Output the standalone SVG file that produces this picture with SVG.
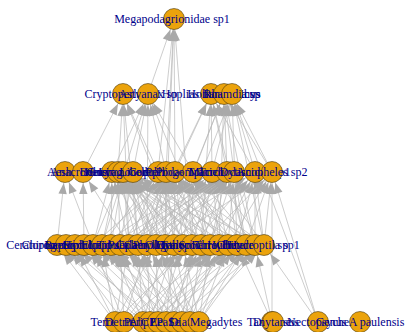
<svg xmlns="http://www.w3.org/2000/svg" width="412" height="332" viewBox="0 0 412 332">
<style>
.e line{stroke:#b8b8b8;stroke-width:0.7;marker-end:url(#ar)}
.n circle{fill:#EBA30C;stroke:#4a3a10;stroke-width:0.6}
.n text{font-family:"Liberation Serif","Times New Roman",serif;font-size:12px;fill:#00008B;text-anchor:middle}
</style>
<defs>
<marker id="ar" markerUnits="userSpaceOnUse" markerWidth="26" markerHeight="10" viewBox="0 0 26 10" refX="22" refY="5" orient="auto" overflow="visible"><path d="M0,0.8 L11,5 L0,9.2 z" fill="#a9a9a9"/></marker>
</defs>
<rect width="412" height="332" fill="#fff"/>
<g id="connectors" class="e">
<line x1="148" y1="94" x2="174" y2="19"/><line x1="158" y1="172" x2="174" y2="19"/><line x1="166" y1="172" x2="174" y2="19"/><line x1="175" y1="172" x2="174" y2="19"/><line x1="165" y1="245" x2="174" y2="19"/><line x1="192" y1="245" x2="174" y2="19"/>
<line x1="83" y1="172" x2="123" y2="94"/><line x1="118" y1="172" x2="123" y2="94"/><line x1="158" y1="172" x2="123" y2="94"/><line x1="138" y1="245" x2="123" y2="94"/><line x1="129" y1="245" x2="123" y2="94"/><line x1="183" y1="245" x2="123" y2="94"/>
<line x1="112" y1="172" x2="148" y2="94"/><line x1="133" y1="172" x2="148" y2="94"/><line x1="166" y1="172" x2="148" y2="94"/><line x1="193" y1="172" x2="148" y2="94"/><line x1="102" y1="245" x2="148" y2="94"/><line x1="147" y1="245" x2="148" y2="94"/><line x1="210" y1="245" x2="148" y2="94"/>
<line x1="175" y1="172" x2="211" y2="94"/><line x1="212" y1="172" x2="211" y2="94"/><line x1="227" y1="172" x2="211" y2="94"/><line x1="255" y1="172" x2="211" y2="94"/><line x1="138" y1="245" x2="211" y2="94"/><line x1="201" y1="245" x2="211" y2="94"/><line x1="246" y1="245" x2="211" y2="94"/>
<line x1="193" y1="172" x2="224" y2="94"/><line x1="227" y1="172" x2="224" y2="94"/><line x1="234" y1="172" x2="224" y2="94"/><line x1="272" y1="172" x2="224" y2="94"/><line x1="165" y1="245" x2="224" y2="94"/><line x1="219" y1="245" x2="224" y2="94"/><line x1="255" y1="245" x2="224" y2="94"/>
<line x1="212" y1="172" x2="232" y2="94"/><line x1="255" y1="172" x2="232" y2="94"/><line x1="272" y1="172" x2="232" y2="94"/><line x1="174" y1="245" x2="232" y2="94"/><line x1="237" y1="245" x2="232" y2="94"/><line x1="264" y1="245" x2="232" y2="94"/><line x1="318" y1="322" x2="232" y2="94"/>
<line x1="57" y1="245" x2="65" y2="172"/><line x1="93" y1="245" x2="65" y2="172"/>
<line x1="84" y1="245" x2="83" y2="172"/><line x1="129" y1="245" x2="83" y2="172"/>
<line x1="210" y1="245" x2="112" y2="172"/><line x1="93" y1="245" x2="112" y2="172"/><line x1="111" y1="245" x2="112" y2="172"/><line x1="129" y1="245" x2="112" y2="172"/><line x1="147" y1="245" x2="112" y2="172"/><line x1="165" y1="245" x2="112" y2="172"/><line x1="192" y1="245" x2="112" y2="172"/><line x1="228" y1="245" x2="112" y2="172"/>
<line x1="156" y1="245" x2="118" y2="172"/><line x1="192" y1="245" x2="118" y2="172"/><line x1="102" y1="245" x2="118" y2="172"/><line x1="120" y1="245" x2="118" y2="172"/><line x1="138" y1="245" x2="118" y2="172"/><line x1="165" y1="245" x2="118" y2="172"/><line x1="210" y1="245" x2="118" y2="172"/><line x1="246" y1="245" x2="118" y2="172"/>
<line x1="174" y1="245" x2="123" y2="172"/><line x1="93" y1="245" x2="123" y2="172"/><line x1="111" y1="245" x2="123" y2="172"/><line x1="129" y1="245" x2="123" y2="172"/><line x1="156" y1="245" x2="123" y2="172"/><line x1="183" y1="245" x2="123" y2="172"/><line x1="219" y1="245" x2="123" y2="172"/><line x1="264" y1="245" x2="123" y2="172"/>
<line x1="165" y1="245" x2="133" y2="172"/><line x1="120" y1="245" x2="133" y2="172"/><line x1="138" y1="245" x2="133" y2="172"/><line x1="147" y1="245" x2="133" y2="172"/><line x1="156" y1="245" x2="133" y2="172"/><line x1="174" y1="245" x2="133" y2="172"/><line x1="201" y1="245" x2="133" y2="172"/><line x1="237" y1="245" x2="133" y2="172"/>
<line x1="201" y1="245" x2="158" y2="172"/><line x1="102" y1="245" x2="158" y2="172"/><line x1="129" y1="245" x2="158" y2="172"/><line x1="156" y1="245" x2="158" y2="172"/><line x1="165" y1="245" x2="158" y2="172"/><line x1="183" y1="245" x2="158" y2="172"/><line x1="228" y1="245" x2="158" y2="172"/><line x1="255" y1="245" x2="158" y2="172"/>
<line x1="147" y1="245" x2="166" y2="172"/><line x1="111" y1="245" x2="166" y2="172"/><line x1="138" y1="245" x2="166" y2="172"/><line x1="165" y1="245" x2="166" y2="172"/><line x1="174" y1="245" x2="166" y2="172"/><line x1="192" y1="245" x2="166" y2="172"/><line x1="210" y1="245" x2="166" y2="172"/><line x1="264" y1="245" x2="166" y2="172"/>
<line x1="93" y1="245" x2="175" y2="172"/><line x1="120" y1="245" x2="175" y2="172"/><line x1="147" y1="245" x2="175" y2="172"/><line x1="174" y1="245" x2="175" y2="172"/><line x1="183" y1="245" x2="175" y2="172"/><line x1="201" y1="245" x2="175" y2="172"/><line x1="237" y1="245" x2="175" y2="172"/><line x1="246" y1="245" x2="175" y2="172"/>
<line x1="228" y1="245" x2="193" y2="172"/><line x1="129" y1="245" x2="193" y2="172"/><line x1="156" y1="245" x2="193" y2="172"/><line x1="183" y1="245" x2="193" y2="172"/><line x1="192" y1="245" x2="193" y2="172"/><line x1="210" y1="245" x2="193" y2="172"/><line x1="219" y1="245" x2="193" y2="172"/><line x1="255" y1="245" x2="193" y2="172"/>
<line x1="102" y1="245" x2="212" y2="172"/><line x1="138" y1="245" x2="212" y2="172"/><line x1="165" y1="245" x2="212" y2="172"/><line x1="192" y1="245" x2="212" y2="172"/><line x1="201" y1="245" x2="212" y2="172"/><line x1="219" y1="245" x2="212" y2="172"/><line x1="228" y1="245" x2="212" y2="172"/><line x1="264" y1="245" x2="212" y2="172"/>
<line x1="111" y1="245" x2="227" y2="172"/><line x1="129" y1="245" x2="227" y2="172"/><line x1="147" y1="245" x2="227" y2="172"/><line x1="174" y1="245" x2="227" y2="172"/><line x1="201" y1="245" x2="227" y2="172"/><line x1="210" y1="245" x2="227" y2="172"/><line x1="237" y1="245" x2="227" y2="172"/><line x1="246" y1="245" x2="227" y2="172"/>
<line x1="120" y1="245" x2="234" y2="172"/><line x1="138" y1="245" x2="234" y2="172"/><line x1="156" y1="245" x2="234" y2="172"/><line x1="183" y1="245" x2="234" y2="172"/><line x1="210" y1="245" x2="234" y2="172"/><line x1="228" y1="245" x2="234" y2="172"/><line x1="246" y1="245" x2="234" y2="172"/><line x1="255" y1="245" x2="234" y2="172"/>
<line x1="138" y1="245" x2="255" y2="172"/><line x1="192" y1="245" x2="255" y2="172"/><line x1="219" y1="245" x2="255" y2="172"/><line x1="237" y1="245" x2="255" y2="172"/><line x1="255" y1="245" x2="255" y2="172"/><line x1="264" y1="245" x2="255" y2="172"/>
<line x1="165" y1="245" x2="272" y2="172"/><line x1="201" y1="245" x2="272" y2="172"/><line x1="228" y1="245" x2="272" y2="172"/><line x1="246" y1="245" x2="272" y2="172"/><line x1="264" y1="245" x2="272" y2="172"/><line x1="318" y1="322" x2="272" y2="172"/><line x1="272" y1="322" x2="272" y2="172"/>
<line x1="115" y1="322" x2="57" y2="245"/><line x1="143" y1="322" x2="57" y2="245"/>
<line x1="124" y1="322" x2="66" y2="245"/><line x1="158" y1="322" x2="66" y2="245"/>
<line x1="115" y1="322" x2="75" y2="245"/><line x1="150" y1="322" x2="75" y2="245"/>
<line x1="143" y1="322" x2="84" y2="245"/><line x1="166" y1="322" x2="84" y2="245"/>
<line x1="124" y1="322" x2="93" y2="245"/><line x1="174" y1="322" x2="93" y2="245"/>
<line x1="115" y1="322" x2="102" y2="245"/><line x1="158" y1="322" x2="102" y2="245"/><line x1="182" y1="322" x2="102" y2="245"/>
<line x1="143" y1="322" x2="111" y2="245"/><line x1="166" y1="322" x2="111" y2="245"/><line x1="190" y1="322" x2="111" y2="245"/>
<line x1="124" y1="322" x2="120" y2="245"/><line x1="150" y1="322" x2="120" y2="245"/><line x1="199" y1="322" x2="120" y2="245"/>
<line x1="115" y1="322" x2="129" y2="245"/><line x1="158" y1="322" x2="129" y2="245"/><line x1="174" y1="322" x2="129" y2="245"/>
<line x1="143" y1="322" x2="138" y2="245"/><line x1="166" y1="322" x2="138" y2="245"/><line x1="182" y1="322" x2="138" y2="245"/>
<line x1="124" y1="322" x2="147" y2="245"/><line x1="150" y1="322" x2="147" y2="245"/><line x1="190" y1="322" x2="147" y2="245"/>
<line x1="115" y1="322" x2="156" y2="245"/><line x1="158" y1="322" x2="156" y2="245"/><line x1="199" y1="322" x2="156" y2="245"/>
<line x1="143" y1="322" x2="165" y2="245"/><line x1="174" y1="322" x2="165" y2="245"/><line x1="182" y1="322" x2="165" y2="245"/>
<line x1="150" y1="322" x2="174" y2="245"/><line x1="166" y1="322" x2="174" y2="245"/><line x1="190" y1="322" x2="174" y2="245"/>
<line x1="124" y1="322" x2="183" y2="245"/><line x1="158" y1="322" x2="183" y2="245"/><line x1="199" y1="322" x2="183" y2="245"/>
<line x1="115" y1="322" x2="192" y2="245"/><line x1="174" y1="322" x2="192" y2="245"/><line x1="182" y1="322" x2="192" y2="245"/>
<line x1="143" y1="322" x2="201" y2="245"/><line x1="166" y1="322" x2="201" y2="245"/><line x1="190" y1="322" x2="201" y2="245"/>
<line x1="150" y1="322" x2="210" y2="245"/><line x1="182" y1="322" x2="210" y2="245"/><line x1="199" y1="322" x2="210" y2="245"/>
<line x1="124" y1="322" x2="219" y2="245"/><line x1="158" y1="322" x2="219" y2="245"/><line x1="190" y1="322" x2="219" y2="245"/>
<line x1="166" y1="322" x2="228" y2="245"/><line x1="174" y1="322" x2="228" y2="245"/><line x1="199" y1="322" x2="228" y2="245"/>
<line x1="143" y1="322" x2="237" y2="245"/><line x1="182" y1="322" x2="237" y2="245"/><line x1="272" y1="322" x2="237" y2="245"/>
<line x1="150" y1="322" x2="246" y2="245"/><line x1="190" y1="322" x2="246" y2="245"/><line x1="199" y1="322" x2="246" y2="245"/>
<line x1="158" y1="322" x2="255" y2="245"/><line x1="199" y1="322" x2="255" y2="245"/><line x1="272" y1="322" x2="255" y2="245"/>
<line x1="174" y1="322" x2="264" y2="245"/><line x1="190" y1="322" x2="264" y2="245"/><line x1="318" y1="322" x2="264" y2="245"/>
</g>
<g id="n1" class="n"><circle cx="174" cy="19" r="10.5"/><text x="172" y="23">Megapodagrionidae sp1</text></g>
<g id="a1" class="n"><circle cx="123" cy="94" r="10.5"/><text x="123" y="98">Cryptoperla sp1</text></g>
<g id="a2" class="n"><circle cx="148" cy="94" r="10.5"/><text x="148" y="98">Astyanax sp</text></g>
<g id="a3" class="n"><circle cx="211" cy="94" r="10.5"/><text x="211" y="98">Hoplias malabaricus</text></g>
<g id="a4" class="n"><circle cx="224" cy="94" r="10.5"/><text x="224" y="98">Hollandichthys</text></g>
<g id="a5" class="n"><circle cx="232" cy="94" r="10.5"/><text x="232" y="98">Rhamdia sp</text></g>
<g id="b1" class="n"><circle cx="65" cy="172" r="10.5"/><text x="65" y="176">Aeshna</text></g>
<g id="b2" class="n"><circle cx="83" cy="172" r="10.5"/><text x="83" y="176">Anacroneuria</text></g>
<g id="b3" class="n"><circle cx="112" cy="172" r="10.5"/><text x="112" y="176">Belostoma sp</text></g>
<g id="b4" class="n"><circle cx="118" cy="172" r="10.5"/><text x="118" y="176">Corydalus sp</text></g>
<g id="b5" class="n"><circle cx="123" cy="172" r="10.5"/><text x="123" y="176">Heteragrion sp1</text></g>
<g id="b6" class="n"><circle cx="133" cy="172" r="10.5"/><text x="133" y="176">Limnocoris sp</text></g>
<g id="b7" class="n"><circle cx="158" cy="172" r="10.5"/><text x="158" y="176">Libellulidae sp1</text></g>
<g id="b8" class="n"><circle cx="166" cy="172" r="10.5"/><text x="166" y="176">Gomphidae sp1</text></g>
<g id="b9" class="n"><circle cx="175" cy="172" r="10.5"/><text x="175" y="176">Perlidae sp1</text></g>
<g id="b10" class="n"><circle cx="193" cy="172" r="10.5"/><text x="193" y="176">Progomphus sp</text></g>
<g id="b11" class="n"><circle cx="212" cy="172" r="10.5"/><text x="212" y="176">Tramea sp</text></g>
<g id="b12" class="n"><circle cx="227" cy="172" r="10.5"/><text x="227" y="176">Macrobrachium</text></g>
<g id="b13" class="n"><circle cx="234" cy="172" r="10.5"/><text x="234" y="176">Trichodactylus</text></g>
<g id="b14" class="n"><circle cx="255" cy="172" r="10.5"/><text x="255" y="176">Dytiscidae sp1</text></g>
<g id="b15" class="n"><circle cx="272" cy="172" r="10.5"/><text x="272" y="176">Anopheles sp2</text></g>
<g id="c1" class="n"><circle cx="57" cy="245" r="10.5"/><text x="57" y="249">Ceratopogonidae sp1</text></g>
<g id="c2" class="n"><circle cx="66" cy="245" r="10.5"/><text x="66" y="249">Chironominae sp1</text></g>
<g id="c3" class="n"><circle cx="75" cy="245" r="10.5"/><text x="75" y="249">Baetidae sp1</text></g>
<g id="c4" class="n"><circle cx="84" cy="245" r="10.5"/><text x="84" y="249">Leptophlebiidae</text></g>
<g id="c5" class="n"><circle cx="93" cy="245" r="10.5"/><text x="93" y="249">Simulium sp</text></g>
<g id="c6" class="n"><circle cx="102" cy="245" r="10.5"/><text x="102" y="249">Hydropsychidae</text></g>
<g id="c7" class="n"><circle cx="111" cy="245" r="10.5"/><text x="111" y="249">Elmidae sp1</text></g>
<g id="c8" class="n"><circle cx="120" cy="245" r="10.5"/><text x="120" y="249">Leptoceridae</text></g>
<g id="c9" class="n"><circle cx="129" cy="245" r="10.5"/><text x="129" y="249">Tipulidae sp1</text></g>
<g id="c10" class="n"><circle cx="138" cy="245" r="10.5"/><text x="138" y="249">Psephenidae</text></g>
<g id="c11" class="n"><circle cx="147" cy="245" r="10.5"/><text x="147" y="249">Caenis sp</text></g>
<g id="c12" class="n"><circle cx="156" cy="245" r="10.5"/><text x="156" y="249">Calamoceratidae</text></g>
<g id="c13" class="n"><circle cx="165" cy="245" r="10.5"/><text x="165" y="249">Phylloicus sp</text></g>
<g id="c14" class="n"><circle cx="174" cy="245" r="10.5"/><text x="174" y="249">Oligochaeta</text></g>
<g id="c15" class="n"><circle cx="183" cy="245" r="10.5"/><text x="183" y="249">Hyalella sp</text></g>
<g id="c16" class="n"><circle cx="192" cy="245" r="10.5"/><text x="192" y="249">Orthocladiinae</text></g>
<g id="c17" class="n"><circle cx="201" cy="245" r="10.5"/><text x="201" y="249">Tanypodinae sp1</text></g>
<g id="c18" class="n"><circle cx="210" cy="245" r="10.5"/><text x="210" y="249">Smicridea sp</text></g>
<g id="c19" class="n"><circle cx="219" cy="245" r="10.5"/><text x="219" y="249">Farrodes sp</text></g>
<g id="c20" class="n"><circle cx="228" cy="245" r="10.5"/><text x="228" y="249">Thraulodes sp</text></g>
<g id="c21" class="n"><circle cx="237" cy="245" r="10.5"/><text x="237" y="249">Hydracarina</text></g>
<g id="c22" class="n"><circle cx="246" cy="245" r="10.5"/><text x="246" y="249">Chimarra sp</text></g>
<g id="c23" class="n"><circle cx="255" cy="245" r="10.5"/><text x="255" y="249">Heterelmis sp</text></g>
<g id="c24" class="n"><circle cx="264" cy="245" r="10.5"/><text x="264" y="249">Hydroptila sp1</text></g>
<g id="d1" class="n"><circle cx="115" cy="322" r="10.5"/><text x="115" y="326">Terrestrial</text></g>
<g id="d2" class="n"><circle cx="124" cy="322" r="10.5"/><text x="124" y="326">Detritus</text></g>
<g id="d3" class="n"><circle cx="143" cy="322" r="10.5"/><text x="143" y="326">Algae</text></g>
<g id="d4" class="n"><circle cx="150" cy="322" r="10.5"/><text x="150" y="326">Periphyton</text></g>
<g id="d5" class="n"><circle cx="158" cy="322" r="10.5"/><text x="158" y="326">CPOM</text></g>
<g id="d6" class="n"><circle cx="166" cy="322" r="10.5"/><text x="166" y="326">FPOM</text></g>
<g id="d7" class="n"><circle cx="174" cy="322" r="10.5"/><text x="174" y="326">Leaf litter</text></g>
<g id="d8" class="n"><circle cx="182" cy="322" r="10.5"/><text x="182" y="326">Seeds</text></g>
<g id="d9" class="n"><circle cx="190" cy="322" r="10.5"/><text x="190" y="326">Diatoms</text></g>
<g id="d10" class="n"><circle cx="199" cy="322" r="10.5"/><text x="216" y="326">Megadytes</text></g>
<g id="d11" class="n"><circle cx="272" cy="322" r="10.5"/><text x="272" y="326">Dixidae</text></g>
<g id="d12" class="n"><circle cx="273" cy="322" r="10.5"/><text x="273" y="326">Tanytarsus</text></g>
<g id="d13" class="n"><circle cx="318" cy="322" r="10.5"/><text x="318" y="326">Nectopsyche</text></g>
<g id="d14" class="n"><circle cx="360" cy="322" r="10.5"/><text x="360" y="326">Genus A paulensis</text></g>
</svg>
